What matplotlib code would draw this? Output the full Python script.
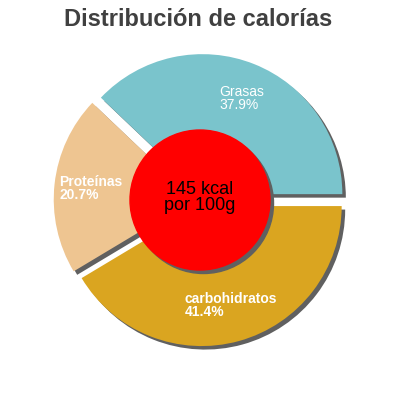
import matplotlib
matplotlib.use('Agg')
import matplotlib.pyplot as plt
from matplotlib.patches import Circle

plt.rcParams['font.family'] = ['Liberation Sans', 'DejaVu Sans']

# data
labels = ['Grasas', 'Proteínas', 'carbohidratos']
shares = [37.9, 20.7, 41.4]
colors = ['#7AC4CC', '#EEC591', '#DAA520']
bold_label = [False, True, True]
# label anchor (top-left) per slice, in data units
label_pos = [(0.136, 0.82), (-1.005, 0.175), (-0.112, -0.66)]
kcal = 145

explode = [0.045, 0.045, 0.045]
shadow_off = (0.025, -0.025)
shadow_col = '#606060'

fig = plt.figure(figsize=(4, 4), dpi=100)
ax = fig.add_axes([0, 0, 1, 1])

# shadow pie first, then the real pie on top
ax.pie(shares, explode=explode, colors=[shadow_col] * 3, startangle=0,
       counterclock=True, center=shadow_off, wedgeprops=dict(linewidth=0))
ax.pie(shares, explode=explode, colors=colors, startangle=0,
       counterclock=True, wedgeprops=dict(linewidth=0))

ax.add_patch(Circle(shadow_off, 0.5, color=shadow_col, zorder=5))
ax.add_patch(Circle((0, 0), 0.5, color='red', zorder=6))

for lab, val, pos, b in zip(labels, shares, label_pos, bold_label):
    ax.text(pos[0], pos[1], f'{lab}\n{val}%', ha='left', va='top',
            color='white', fontsize=10, linespacing=0.85,
            fontweight='bold' if b else 'normal', zorder=7)

ax.text(0, 0.02, f'{kcal} kcal\npor 100g', ha='center', va='center',
        fontsize=13, color='black', linespacing=0.95, zorder=8)

ax.set_xlim(-200 / 140, 200 / 140)
ax.set_ylim(-200 / 140, 200 / 140)
ax.set_aspect('equal')
ax.axis('off')

fig.text(0.495, 0.98, 'Distribución de calorías', ha='center', va='top',
         fontsize=17, fontweight='bold', color='#404040')

fig.savefig('out.png', dpi=100)
